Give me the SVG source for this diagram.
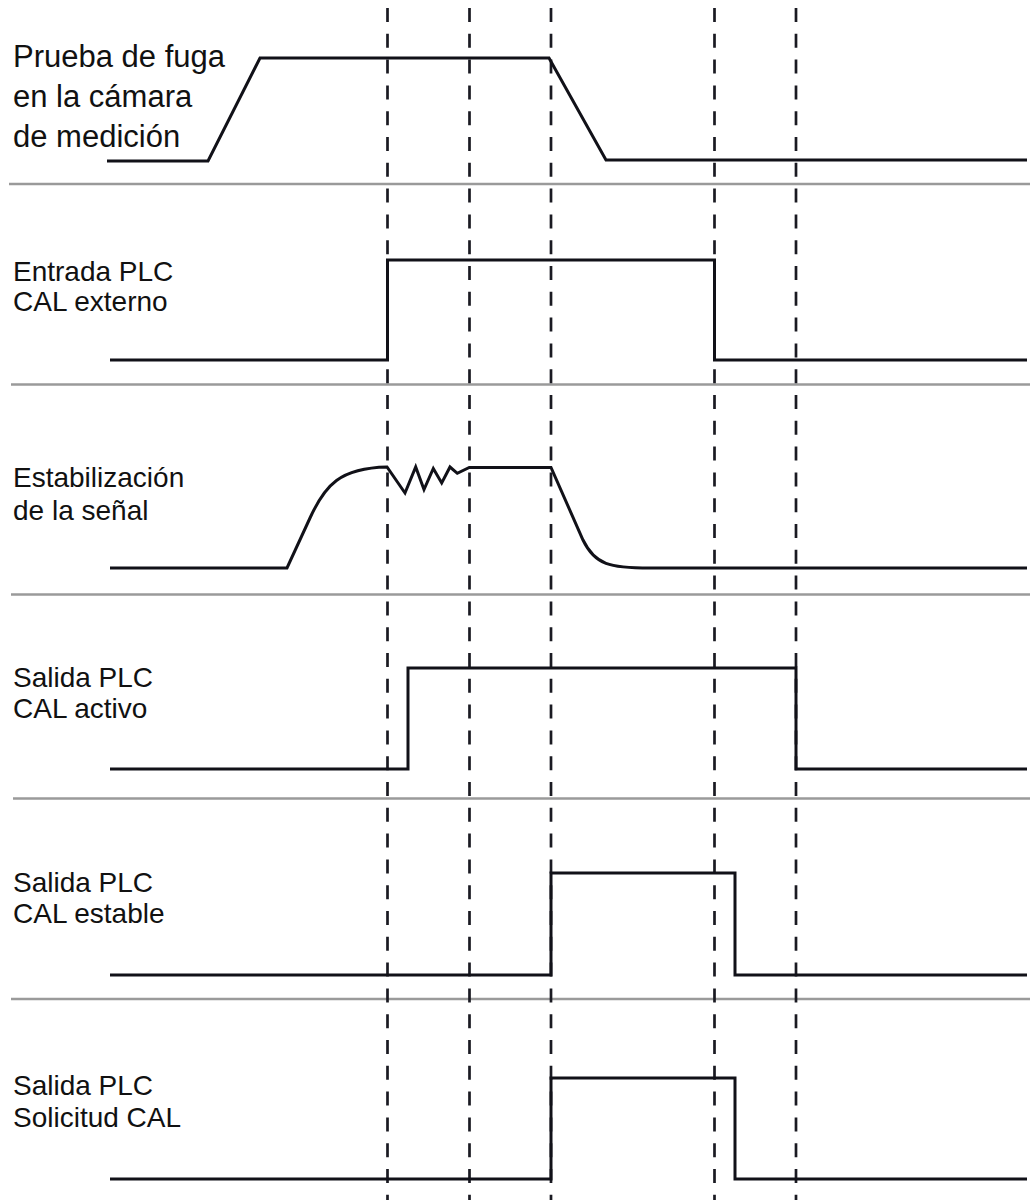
<svg xmlns="http://www.w3.org/2000/svg" width="1030" height="1200" viewBox="0 0 1030 1200">
<style>
.bg{fill:#fff}
.sep{stroke:#9a9a9a;stroke-width:2.5;fill:none}
.dash{stroke:#1a1a22;stroke-width:2.7;stroke-dasharray:14 11.8;fill:none}
.wave{stroke:#111118;stroke-width:3;fill:none;stroke-linejoin:miter}
.lbl{font-family:"Liberation Sans",Arimo,Arial,sans-serif;font-size:28px;fill:#111}
.lbl1{font-size:31px}
</style>
<rect class="bg" x="0" y="0" width="1030" height="1200"/>
<g id="separators">
<line class="sep" x1="9" y1="184" x2="1030" y2="184"/>
<line class="sep" x1="11" y1="384.5" x2="1030" y2="384.5"/>
<line class="sep" x1="11" y1="594.5" x2="1030" y2="594.5"/>
<line class="sep" x1="13" y1="798.5" x2="1030" y2="798.5"/>
<line class="sep" x1="11" y1="999" x2="1030" y2="999"/>
</g>
<g id="connectors">
<line class="dash" x1="387.5" y1="8" x2="387.5" y2="1200"/>
<line class="dash" x1="469.5" y1="8" x2="469.5" y2="1200"/>
<line class="dash" x1="551" y1="8" x2="551" y2="1200"/>
<line class="dash" x1="714.5" y1="8" x2="714.5" y2="1200"/>
<line class="dash" x1="796" y1="8" x2="796" y2="1200"/>
</g>
<g id="signal-prueba-fuga">
<text class="lbl lbl1" x="13" y="67">Prueba de fuga</text>
<text class="lbl lbl1" x="13" y="107">en la cámara</text>
<text class="lbl lbl1" x="13" y="147">de medición</text>
<polyline class="wave" points="107,161 208,161 260,58 549,58 606,160 1027,160"/>
</g>
<g id="signal-entrada-cal-externo">
<text class="lbl" x="13" y="281">Entrada PLC</text>
<text class="lbl" x="13" y="311">CAL externo</text>
<polyline class="wave" points="110,360 387.5,360 387.5,260 714.5,260 714.5,360 1027,360"/>
</g>
<g id="signal-estabilizacion">
<text class="lbl" x="13" y="487">Estabilización</text>
<text class="lbl" x="13" y="520">de la señal</text>
<path class="wave" d="M110 568 H287 L310 518 C325 485 340 468 387 467 L405 493 L415.7 467 L424 489.5 L433.3 468.5 L441.7 483 L450 467 L457.3 473.3 L469.3 467.5 H551 L583 540 C595 565 610 568 650 568 H1027"/>
</g>
<g id="signal-salida-cal-activo">
<text class="lbl" x="13" y="687">Salida PLC</text>
<text class="lbl" x="13" y="718">CAL activo</text>
<polyline class="wave" points="110,769 408,769 408,668 796,668 796,769 1027,769"/>
</g>
<g id="signal-salida-cal-estable">
<text class="lbl" x="13" y="892">Salida PLC</text>
<text class="lbl" x="13" y="923">CAL estable</text>
<polyline class="wave" points="110,975 551,975 551,873 735,873 735,975 1027,975"/>
</g>
<g id="signal-salida-solicitud-cal">
<text class="lbl" x="13" y="1095">Salida PLC</text>
<text class="lbl" x="13" y="1127">Solicitud CAL</text>
<polyline class="wave" points="110,1179 551,1179 551,1078 735,1078 735,1179 1027,1179"/>
</g>
</svg>
